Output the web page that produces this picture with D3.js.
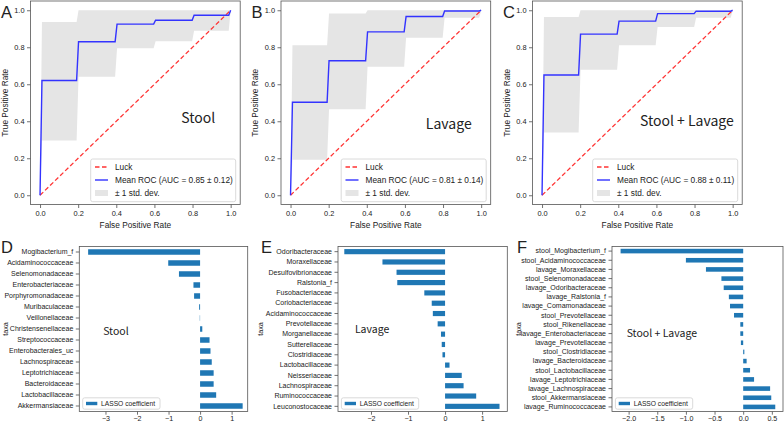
<!DOCTYPE html>
<html>
<head>
<meta charset="utf-8">
<script src="https://cdn.jsdelivr.net/npm/d3@7"></script>
<style>
  body { margin: 0; background: #fff; }
  svg text { font-family: "Liberation Sans", Arial, sans-serif; fill: #222; }
  .note { font-family: "Noto Sans CJK KR", "Noto Sans", sans-serif; }
</style>
</head>
<body>
<svg id="fig" width="784" height="423"></svg>
<script>
// ROC data: mean curve and +/- 1 std band
var fprGrid = [0, 0.0101, 0.1919, 0.2020, 0.3939, 0.4040, 0.5960, 0.6061, 0.7980, 0.8081, 0.9899, 1.0];

var stoolMean  = [0, 0.62, 0.62, 0.83, 0.83, 0.925, 0.925, 0.946, 0.946, 0.973, 0.973, 1.0];
var stoolUpper = [0, 0.937, 0.937, 1, 1, 1, 1, 1, 1, 1, 1, 1];
var stoolLower = [0, 0.296, 0.296, 0.641, 0.641, 0.794, 0.794, 0.833, 0.833, 0.889, 0.889, 1.0];

var lavageMean  = [0, 0.503, 0.503, 0.727, 0.727, 0.883, 0.883, 0.966, 0.966, 0.996, 0.996, 1.0];
var lavageUpper = [0, 0.811, 0.811, 0.982, 0.982, 1, 1, 1, 1, 1, 1, 1];
var lavageLower = [0, 0.192, 0.192, 0.465, 0.465, 0.695, 0.695, 0.851, 0.851, 0.96, 0.96, 1.0];

var comboMean  = [0, 0.65, 0.65, 0.871, 0.871, 0.941, 0.941, 0.982, 0.982, 0.995, 0.995, 1.0];
var comboUpper = [0, 0.964, 0.964, 1, 1, 1, 1, 1, 1, 1, 1, 1];
var comboLower = [0, 0.339, 0.339, 0.679, 0.679, 0.811, 0.811, 0.91, 0.91, 0.96, 0.96, 1.0];

var rocTicks = [0, 0.2, 0.4, 0.6, 0.8, 1.0];

// LASSO coefficients, top to bottom
var stoolTaxa = ["Mogibacterium_f", "Acidaminococcaceae", "Selenomonadaceae", "Enterobacteriaceae",
  "Porphyromonadaceae", "Muribaculaceae", "Veillonellaceae", "Christensenellaceae", "Streptococcaceae",
  "Enterobacterales_uc", "Lachnospiraceae", "Leptotrichiaceae", "Bacteroidaceae", "Lactobacillaceae",
  "Akkermansiaceae"];
var stoolCoef = [-3.55, -1.01, -0.67, -0.21, -0.19, -0.03, -0.01, 0.07, 0.30, 0.33, 0.37, 0.43, 0.43, 0.51, 1.35];

var lavageTaxa = ["Odoribacteraceae", "Moraxellaceae", "Desulfovibrionaceae", "Ralstonia_f",
  "Fusobacteriaceae", "Coriobacteriaceae", "Acidaminococcaceae", "Prevotellaceae", "Morganellaceae",
  "Sutterellaceae", "Clostridiaceae", "Lactobacillaceae", "Neisseriaceae", "Lachnospiraceae",
  "Ruminococcaceae", "Leuconostocaceae"];
var lavageCoef = [-2.72, -1.69, -1.31, -1.29, -0.56, -0.36, -0.33, -0.20, -0.11, -0.09, -0.07, 0.12, 0.45, 0.50, 0.84, 1.47];

var comboTaxa = ["stool_Mogibacterium_f", "stool_Acidaminococcaceae", "lavage_Moraxellaceae",
  "stool_Selenomonadaceae", "lavage_Odoribacteraceae", "lavage_Ralstonia_f", "lavage_Comamonadaceae",
  "stool_Prevotellaceae", "stool_Rikenellaceae", "lavage_Enterobacteriaceae", "lavage_Prevotellaceae",
  "stool_Clostridiaceae", "lavage_Bacteroidaceae", "stool_Lactobacillaceae", "lavage_Leptotrichiaceae",
  "lavage_Lachnospiraceae", "stool_Akkermansiaceae", "lavage_Ruminococcaceae"];
var comboCoef = [-2.14, -1.0, -0.65, -0.38, -0.34, -0.25, -0.23, -0.16, -0.05, -0.05, -0.04, 0.02, 0.06, 0.12, 0.19, 0.47, 0.49, 0.56];

var svg = d3.select("#fig");

// ---------- ROC panels ----------
var rocTop = 1, rocBottom = 204.5, rocW = 209.7;

function drawRoc(left, mean, upper, lower, aucText, letter, note, noteX, noteY) {
  var x = d3.scaleLinear().domain([-0.05, 1.05]).range([left, left + rocW]);
  var y = d3.scaleLinear().domain([-0.05, 1.05]).range([rocBottom, rocTop]);
  var pts = fprGrid.map(function(f, i) { return {f: f, m: mean[i], hi: upper[i], lo: lower[i]}; });

  svg.append("path").datum(pts)
    .attr("d", d3.area().x(d => x(d.f)).y0(d => y(d.lo)).y1(d => y(d.hi)))
    .attr("fill", "#e5e5e5");

  svg.append("path").datum([0, 1])
    .attr("d", d3.line().x(d => x(d)).y(d => y(d)))
    .attr("fill", "none").attr("stroke", "#ff3333").attr("stroke-width", 1.3)
    .attr("stroke-dasharray", "4.5,2.5");

  svg.append("path").datum(pts)
    .attr("d", d3.line().x(d => x(d.f)).y(d => y(d.m)))
    .attr("fill", "none").attr("stroke", "#3333ff").attr("stroke-width", 1.4);

  var xAxis = svg.append("g").attr("transform", `translate(0,${rocBottom})`)
    .call(d3.axisBottom(x).tickValues(rocTicks).tickFormat(d3.format(".1f")).tickSize(3.5).tickPadding(2.5));
  var yAxis = svg.append("g").attr("transform", `translate(${left},0)`)
    .call(d3.axisLeft(y).tickValues(rocTicks).tickFormat(d3.format(".1f")).tickSize(3.5).tickPadding(2.5));
  [xAxis, yAxis].forEach(function(a) {
    a.select(".domain").remove();
    a.selectAll("text").attr("font-size", 7.4).attr("fill", "#222").attr("font-family", "Liberation Sans, Arial, sans-serif");
    a.selectAll("line").attr("stroke", "#333").attr("stroke-width", 0.7);
  });

  svg.append("rect").attr("x", left).attr("y", rocTop).attr("width", rocW).attr("height", rocBottom - rocTop)
    .attr("fill", "none").attr("stroke", "#555").attr("stroke-width", 0.8);

  // legend
  var lx = left + rocW - 149.5, ly = rocBottom - 45.5;
  var lg = svg.append("g").attr("transform", `translate(${lx},${ly})`);
  lg.append("rect").attr("width", 145).attr("height", 42.7).attr("rx", 2)
    .attr("fill", "#fff").attr("fill-opacity", 0.8).attr("stroke", "#d0d0d0").attr("stroke-width", 0.8);
  lg.append("line").attr("x1", 4.3).attr("x2", 17.3).attr("y1", 8).attr("y2", 8)
    .attr("stroke", "#ff3333").attr("stroke-width", 1.3).attr("stroke-dasharray", "4.5,2.5");
  lg.append("line").attr("x1", 4.3).attr("x2", 17.3).attr("y1", 21).attr("y2", 21)
    .attr("stroke", "#3333ff").attr("stroke-width", 1.4);
  lg.append("rect").attr("x", 4.3).attr("y", 31).attr("width", 13).attr("height", 6).attr("fill", "#e5e5e5");
  var labels = ["Luck", aucText, "\u00b1 1 std. dev."];
  labels.forEach(function(t, i) {
    lg.append("text").attr("x", 24.3).attr("y", 8 + 13 * i).attr("dy", "0.35em")
      .attr("font-size", 8.3).text(t);
  });

  svg.append("text").attr("x", x(0.5)).attr("y", 228).attr("text-anchor", "middle")
    .attr("font-size", 8.3).text("False Positive Rate");
  svg.append("text").attr("transform", `translate(${left - 23},${(rocTop + rocBottom) / 2}) rotate(-90)`)
    .attr("text-anchor", "middle").attr("font-size", 8.3).text("True Positive Rate");

  svg.append("text").attr("class", "note").attr("x", x(noteX)).attr("y", y(noteY))
    .attr("text-anchor", "middle").attr("font-size", 14).attr("fill", "#222").text(note);
  svg.append("text").attr("x", left - 29.5).attr("y", 17.5)
    .attr("font-size", 16.5).attr("fill", "#1c2b48").text(letter);
}

drawRoc(30.5, stoolMean, stoolUpper, stoolLower, "Mean ROC (AUC = 0.85 \u00b1 0.12)", "A", "Stool", 0.83, 0.39);
drawRoc(281, lavageMean, lavageUpper, lavageLower, "Mean ROC (AUC = 0.81 \u00b1 0.14)", "B", "Lavage", 0.83, 0.36);
drawRoc(532.5, comboMean, comboUpper, comboLower, "Mean ROC (AUC = 0.88 \u00b1 0.11)", "C", "Stool + Lavage", 0.76, 0.372);

// ---------- LASSO panels ----------
var barTop = 246.5, barBottom = 411.5;

function drawBars(left, right, domain, taxa, coef, ticks, fmt, letter, letterX, taxaX, note, noteX, noteFrac, noteSize) {
  var x = d3.scaleLinear().domain(domain).range([left, right]);
  var y = d3.scaleBand().domain(taxa).range([barTop, barBottom]).paddingInner(0.5).paddingOuter(0.25);

  svg.append("g").selectAll("rect").data(taxa).enter().append("rect")
    .attr("x", (d, i) => x(Math.min(0, coef[i])))
    .attr("y", d => y(d))
    .attr("width", (d, i) => Math.abs(x(coef[i]) - x(0)))
    .attr("height", y.bandwidth())
    .attr("fill", "#1f77b4");

  var xAxis = svg.append("g").attr("transform", `translate(0,${barBottom})`)
    .call(d3.axisBottom(x).tickValues(ticks).tickFormat(fmt).tickSize(3.2).tickPadding(1.6));
  var yAxis = svg.append("g").attr("transform", `translate(${left},0)`)
    .call(d3.axisLeft(y).tickSize(3.5).tickPadding(2.5));
  [xAxis, yAxis].forEach(function(a) {
    a.select(".domain").remove();
    a.selectAll("text").attr("fill", "#222").attr("font-family", "Liberation Sans, Arial, sans-serif");
    a.selectAll("line").attr("stroke", "#333").attr("stroke-width", 0.7);
  });
  xAxis.selectAll("text").attr("font-size", 7.1);
  yAxis.selectAll("text").attr("font-size", 7);

  svg.append("rect").attr("x", left).attr("y", barTop).attr("width", right - left).attr("height", barBottom - barTop)
    .attr("fill", "none").attr("stroke", "#555").attr("stroke-width", 0.8);

  // legend
  var lg = svg.append("g").attr("transform", `translate(${left + 3.4},${barBottom - 13.7})`);
  lg.append("rect").attr("width", 77.3).attr("height", 11.4).attr("rx", 2)
    .attr("fill", "#fff").attr("fill-opacity", 0.8).attr("stroke", "#d0d0d0").attr("stroke-width", 0.8);
  lg.append("rect").attr("x", 3.3).attr("y", 4).attr("width", 11.3).attr("height", 3.4).attr("fill", "#1f77b4");
  lg.append("text").attr("x", 18.3).attr("y", 5.7).attr("dy", "0.35em").attr("font-size", 6.7).text("LASSO coefficient");

  svg.append("text").attr("transform", `translate(${taxaX},${(barTop + barBottom) / 2}) rotate(-90)`)
    .attr("text-anchor", "middle").attr("font-size", 7.2).text("taxa");

  svg.append("text").attr("class", "note").attr("x", x(noteX)).attr("y", barTop + noteFrac * (barBottom - barTop))
    .attr("text-anchor", "middle").attr("font-size", noteSize).attr("fill", "#222").text(note);
  svg.append("text").attr("x", letterX).attr("y", 253)
    .attr("font-size", 16.5).attr("fill", "#1c2b48").text(letter);
}

drawBars(79.3, 247.7, [-3.83, 1.51], stoolTaxa, stoolCoef, [-3, -2, -1, 0, 1], d3.format("d"),
  "D", 1, 7.5, "Stool", -2.67, 0.534, 10.5);
drawBars(338, 507.3, [-2.89, 1.68], lavageTaxa, lavageCoef, [-2, -1, 0, 1], d3.format("d"),
  "E", 261, 263, "Lavage", -1.97, 0.524, 10.5);
drawBars(612, 783, [-2.29, 0.695], comboTaxa, comboCoef, [-2, -1.5, -1, -0.5, 0, 0.5], d3.format(".1f"),
  "F", 517, 521, "Stool + Lavage", -1.42, 0.546, 10.5);
</script>
</body>
</html>
